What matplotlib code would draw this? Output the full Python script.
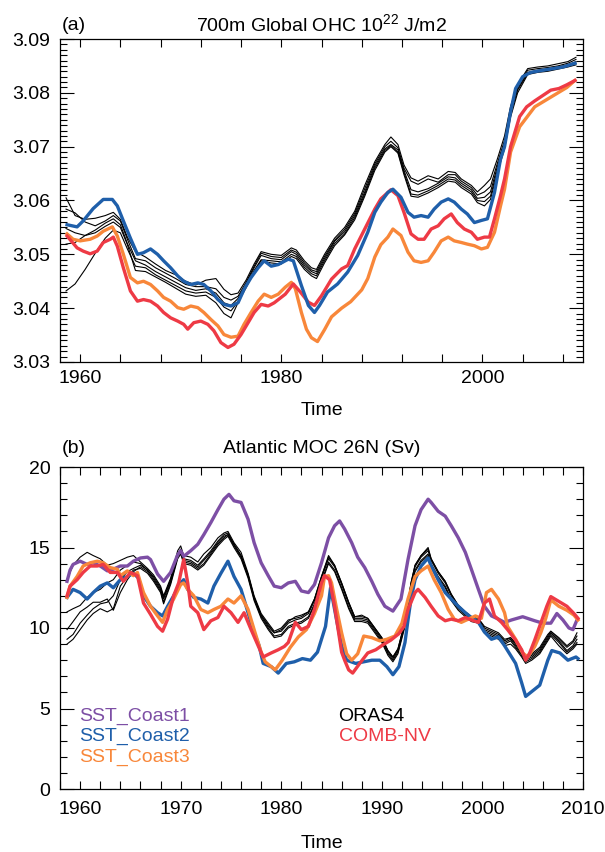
"""Ocean heat content and Atlantic MOC at 26N: ORAS4 ensemble vs. coastal SST runs"""
import matplotlib
matplotlib.use('Agg')
import matplotlib.pyplot as plt
from matplotlib.ticker import MultipleLocator

plt.rcParams['font.family'] = ['Liberation Sans', 'DejaVu Sans']
plt.rcParams['mathtext.fontset'] = 'custom'
plt.rcParams['mathtext.rm'] = 'Liberation Sans'

PURPLE = '#7D4FA5'
BLUE = '#1F5FAA'
ORANGE = '#F8873A'
RED = '#EE3A45'

# ---------------- panel (a): 700m global OHC ----------------
OHC_ORAS4_YEARS = [1958.6, 1959.5, 1960.5, 1961.5, 1962.5, 1963.3, 1964.0, 1964.7, 1965.5, 1966.5,
                   1967.5, 1968.5, 1969.5, 1970.5, 1971.5, 1972.5, 1973.5, 1974.3, 1975.0, 1975.7,
                   1976.5, 1977.3, 1978.0, 1979.0, 1980.0, 1981.0, 1981.5, 1982.3, 1983.0, 1983.5,
                   1984.3, 1985.3, 1986.3, 1987.3, 1988.3, 1989.3, 1990.3, 1990.9, 1991.6, 1992.2,
                   1992.9, 1993.6, 1994.6, 1995.6, 1996.6, 1997.3, 1997.9, 1998.9, 1999.5, 2000.2,
                   2000.8, 2001.5, 2002.2, 2002.8, 2003.5, 2004.5, 2005.5, 2006.5, 2007.5, 2008.5,
                   2009.3]
OHC_ORAS4 = [
    [3.0605, 3.0572, 3.0565, 3.0567, 3.0572, 3.0578, 3.0565, 3.0532, 3.0505, 3.0495,
     3.0482, 3.0470, 3.0462, 3.0450, 3.0443, 3.0452, 3.0455, 3.0435, 3.0425, 3.0428,
     3.0452, 3.0482, 3.0505, 3.0500, 3.0498, 3.0512, 3.0508, 3.0488, 3.0475, 3.0472,
     3.0500, 3.0530, 3.0550, 3.0580, 3.0628, 3.0672, 3.0704, 3.0718, 3.0704, 3.0666,
     3.0642, 3.0636, 3.0646, 3.0640, 3.0654, 3.0652, 3.0640, 3.0628, 3.0616, 3.0628,
     3.0640, 3.0678, 3.0720, 3.0775, 3.0815, 3.0845, 3.0848, 3.0850, 3.0854, 3.0858,
     3.0866],
    [3.0584, 3.0577, 3.0560, 3.0553, 3.0562, 3.0572, 3.0562, 3.0528, 3.0492, 3.0488,
     3.0475, 3.0465, 3.0455, 3.0444, 3.0440, 3.0440, 3.0436, 3.0420, 3.0415, 3.0422,
     3.0448, 3.0478, 3.0502, 3.0496, 3.0494, 3.0508, 3.0504, 3.0484, 3.0471, 3.0468,
     3.0496, 3.0526, 3.0546, 3.0576, 3.0622, 3.0668, 3.0700, 3.0710, 3.0698, 3.0660,
     3.0636, 3.0630, 3.0640, 3.0634, 3.0648, 3.0648, 3.0636, 3.0624, 3.0610, 3.0616,
     3.0626, 3.0670, 3.0712, 3.0770, 3.0812, 3.0842, 3.0845, 3.0847, 3.0850, 3.0855,
     3.0862],
    [3.0519, 3.0522, 3.0535, 3.0545, 3.0558, 3.0566, 3.0555, 3.0520, 3.0488, 3.0480,
     3.0468, 3.0458, 3.0448, 3.0438, 3.0433, 3.0436, 3.0428, 3.0410, 3.0405, 3.0418,
     3.0445, 3.0475, 3.0498, 3.0492, 3.0490, 3.0505, 3.0500, 3.0480, 3.0468, 3.0464,
     3.0492, 3.0524, 3.0542, 3.0572, 3.0616, 3.0664, 3.0696, 3.0704, 3.0694, 3.0656,
     3.0620, 3.0616, 3.0622, 3.0632, 3.0644, 3.0642, 3.0632, 3.0620, 3.0604, 3.0606,
     3.0616, 3.0664, 3.0706, 3.0765, 3.0808, 3.0838, 3.0842, 3.0844, 3.0848, 3.0852,
     3.0858],
    [3.0432, 3.0445, 3.0472, 3.0502, 3.0530, 3.0545, 3.0540, 3.0510, 3.0478, 3.0475,
     3.0462, 3.0452, 3.0442, 3.0432, 3.0428, 3.0430, 3.0420, 3.0402, 3.0395, 3.0412,
     3.0440, 3.0470, 3.0490, 3.0488, 3.0486, 3.0500, 3.0496, 3.0476, 3.0464, 3.0460,
     3.0488, 3.0520, 3.0538, 3.0568, 3.0612, 3.0660, 3.0693, 3.0702, 3.0690, 3.0652,
     3.0612, 3.0610, 3.0618, 3.0628, 3.0640, 3.0638, 3.0628, 3.0616, 3.0600, 3.0598,
     3.0608, 3.0658, 3.0700, 3.0760, 3.0805, 3.0836, 3.0840, 3.0842, 3.0846, 3.0850,
     3.0855],
    [3.0548, 3.0540, 3.0535, 3.0540, 3.0552, 3.0560, 3.0550, 3.0518, 3.0470, 3.0468,
     3.0458, 3.0448, 3.0437, 3.0426, 3.0422, 3.0424, 3.0410, 3.0390, 3.0382, 3.0410,
     3.0438, 3.0468, 3.0488, 3.0484, 3.0482, 3.0496, 3.0492, 3.0472, 3.0460, 3.0455,
     3.0484, 3.0516, 3.0536, 3.0564, 3.0608, 3.0656, 3.0690, 3.0700, 3.0688, 3.0648,
     3.0608, 3.0606, 3.0614, 3.0624, 3.0636, 3.0634, 3.0624, 3.0612, 3.0596, 3.0590,
     3.0602, 3.0652, 3.0696, 3.0755, 3.0800, 3.0834, 3.0838, 3.0840, 3.0844, 3.0848,
     3.0852],
]

OHC_COAST2_YEARS = [1958.7, 1959.7, 1960.3, 1961.3, 1962.3, 1963.2, 1963.7, 1964.3, 1965.0, 1965.7,
                    1966.3, 1967.0, 1967.7, 1968.3, 1969.0, 1969.7, 1970.3, 1971.0, 1971.7, 1972.3,
                    1973.0, 1973.7, 1974.3, 1975.0, 1975.7, 1976.3, 1977.0, 1977.7, 1978.3, 1979.0,
                    1979.7, 1980.7, 1981.2, 1982.0, 1982.7, 1983.3, 1983.8, 1984.6, 1985.6, 1986.6,
                    1987.6, 1988.6, 1989.3, 1989.9, 1990.6, 1991.1, 1991.9, 1992.6, 1993.2, 1993.9,
                    1994.6, 1995.2, 1995.9, 1996.6, 1997.2, 1997.9, 1998.5, 1999.2, 1999.9, 2000.5,
                    2001.2, 2001.8, 2002.2, 2002.8, 2003.3, 2004.0, 2004.8, 2006.0, 2007.0, 2008.0,
                    2009.2]
OHC_COAST2 = [3.0555, 3.0551, 3.0562, 3.0585, 3.0602, 3.0602, 3.0590, 3.0562, 3.0530, 3.0500,
              3.0503, 3.0510, 3.0500, 3.0488, 3.0475, 3.0460, 3.0450, 3.0444, 3.0447, 3.0444,
              3.0432, 3.0416, 3.0407, 3.0404, 3.0410, 3.0435, 3.0457, 3.0475, 3.0488, 3.0478,
              3.0481, 3.0491, 3.0488, 3.0442, 3.0405, 3.0392, 3.0405, 3.0430, 3.0445, 3.0467,
              3.0498, 3.0541, 3.0578, 3.0597, 3.0615, 3.0621, 3.0606, 3.0578, 3.0569, 3.0572,
              3.0569, 3.0584, 3.0597, 3.0603, 3.0597, 3.0584, 3.0575, 3.0559, 3.0563, 3.0566,
              3.0615, 3.0677, 3.0700, 3.0765, 3.0808, 3.0830, 3.0838, 3.0842, 3.0845, 3.0848,
              3.0855]

OHC_COMB_YEARS = [1958.7, 1959.7, 1960.3, 1961.0, 1961.7, 1962.3, 1963.0, 1963.3, 1963.7, 1964.3,
                  1965.0, 1965.7, 1966.3, 1967.0, 1967.7, 1968.3, 1969.0, 1969.7, 1970.3, 1970.7,
                  1971.3, 1972.0, 1972.7, 1973.3, 1974.0, 1974.7, 1975.3, 1976.0, 1976.7, 1977.3,
                  1978.0, 1978.7, 1979.3, 1980.4, 1981.2, 1981.9, 1982.7, 1983.3, 1984.0, 1985.0,
                  1986.0, 1986.6, 1987.3, 1988.3, 1989.3, 1989.9, 1990.9, 1991.6, 1992.2, 1992.9,
                  1993.6, 1994.2, 1994.9, 1995.6, 1996.2, 1996.9, 1997.5, 1998.2, 1998.9, 1999.5,
                  2000.2, 2000.7, 2001.2, 2001.8, 2002.2, 2002.8, 2003.7, 2004.4, 2005.2, 2006.0,
                  2006.8, 2007.6, 2008.4, 2009.2]
OHC_COMB = [3.0534, 3.0512, 3.0506, 3.0501, 3.0506, 3.0522, 3.0528, 3.0532, 3.0515, 3.0475,
            3.0432, 3.0413, 3.0416, 3.0413, 3.0404, 3.0392, 3.0382, 3.0376, 3.0370, 3.0361,
            3.0373, 3.0376, 3.0370, 3.0358, 3.0336, 3.0327, 3.0333, 3.0351, 3.0373, 3.0392,
            3.0407, 3.0404, 3.0410, 3.0426, 3.0445, 3.0430, 3.0411, 3.0405, 3.0423, 3.0454,
            3.0473, 3.0479, 3.0510, 3.0547, 3.0584, 3.0603, 3.0620, 3.0609, 3.0578, 3.0538,
            3.0528, 3.0528, 3.0547, 3.0553, 3.0566, 3.0575, 3.0559, 3.0547, 3.0541, 3.0528,
            3.0532, 3.0532, 3.0566, 3.0609, 3.0640, 3.0700, 3.0756, 3.0774, 3.0785, 3.0795,
            3.0805, 3.0808, 3.0815, 3.0823]

OHC_COAST3_YEARS = [1958.7, 1959.3, 1960.0, 1961.0, 1961.7, 1962.3, 1963.2, 1963.7, 1964.3, 1965.0,
                    1965.7, 1966.3, 1967.0, 1967.7, 1968.3, 1969.0, 1969.7, 1970.3, 1971.0, 1971.7,
                    1972.3, 1973.0, 1973.7, 1974.3, 1975.0, 1975.7, 1976.3, 1977.0, 1977.7, 1978.3,
                    1979.0, 1979.7, 1980.4, 1981.0, 1981.4, 1982.0, 1982.5, 1983.0, 1983.6, 1984.3,
                    1985.0, 1986.0, 1986.9, 1988.0, 1988.6, 1989.3, 1989.9, 1990.6, 1991.1, 1991.9,
                    1992.6, 1993.2, 1993.9, 1994.6, 1995.2, 1995.9, 1996.6, 1997.2, 1997.9, 1998.5,
                    1999.2, 1999.9, 2000.5, 2001.2, 2001.8, 2002.2, 2002.8, 2003.7, 2005.2, 2006.8,
                    2008.4, 2009.2]
OHC_COAST3 = [3.0538, 3.0528, 3.0525, 3.0528, 3.0534, 3.0543, 3.0551, 3.0534, 3.0500, 3.0457,
              3.0447, 3.0450, 3.0444, 3.0432, 3.0420, 3.0413, 3.0401, 3.0398, 3.0404, 3.0401,
              3.0392, 3.0379, 3.0367, 3.0351, 3.0346, 3.0348, 3.0370, 3.0392, 3.0413, 3.0426,
              3.0420, 3.0426, 3.0439, 3.0448, 3.0436, 3.0392, 3.0361, 3.0345, 3.0338, 3.0360,
              3.0384, 3.0400, 3.0412, 3.0434, 3.0455, 3.0495, 3.0518, 3.0532, 3.0547, 3.0535,
              3.0504, 3.0488, 3.0485, 3.0488, 3.0504, 3.0525, 3.0532, 3.0525, 3.0522, 3.0519,
              3.0516, 3.0510, 3.0513, 3.0541, 3.0590, 3.0621, 3.0690, 3.0737, 3.0774, 3.0792,
              3.0810, 3.0823]

# ---------------- panel (b): Atlantic MOC at 26N ----------------
MOC_ORAS4_YEARS = [1958.7, 1959.3, 1960.0, 1960.7, 1961.3, 1962.0, 1962.7, 1963.3, 1964.0, 1964.7,
                   1965.3, 1966.0, 1966.7, 1967.3, 1968.0, 1968.3, 1969.0, 1969.7, 1970.0, 1970.3,
                   1971.0, 1971.7, 1972.3, 1973.0, 1973.7, 1974.3, 1974.7, 1975.3, 1976.0, 1976.7,
                   1977.3, 1978.0, 1978.7, 1979.3, 1980.0, 1980.7, 1981.4, 1982.0, 1982.7, 1983.3,
                   1984.0, 1984.7, 1985.3, 1986.0, 1986.7, 1987.3, 1988.0, 1988.6, 1989.3, 1990.0,
                   1990.6, 1991.1, 1991.6, 1992.3, 1992.9, 1993.3, 1993.9, 1994.6, 1994.9, 1995.6,
                   1996.3, 1996.9, 1997.6, 1998.3, 1998.9, 1999.6, 2000.2, 2000.9, 2001.6, 2002.2,
                   2002.8, 2003.3, 2003.9, 2004.3, 2004.9, 2005.7, 2006.5, 2006.8, 2007.6, 2008.4,
                   2009.0, 2009.4]
MOC_ORAS4 = [
    [13.0, 13.9, 14.4, 14.7, 14.5, 14.3, 13.9, 14.0, 14.2, 14.4,
     14.5, 14.1, 13.7, 13.3, 12.6, 12.0, 13.1, 14.8, 15.1, 14.5,
     14.4, 14.1, 14.6, 15.0, 15.6, 15.9, 16.0, 15.3, 14.7, 13.4,
     12.0, 10.9, 10.3, 9.8, 10.0, 10.5, 10.6, 10.7, 11.0, 11.8,
     13.2, 14.5, 13.9, 12.8, 11.6, 10.7, 10.8, 10.6, 10.0, 9.4,
     8.6, 8.2, 8.7, 10.4, 12.8, 13.9, 14.5, 15.0, 14.3, 13.5,
     12.9, 12.1, 11.4, 11.0, 10.7, 10.6, 10.0, 9.8, 9.6, 9.2,
     9.4, 9.0, 8.5, 8.1, 8.3, 8.7, 9.5, 9.8, 9.4, 8.9,
     9.2, 9.7],
    [11.0, 11.2, 11.4, 11.9, 12.2, 12.4, 12.8, 13.0, 13.6, 13.9,
     14.1, 14.0, 13.6, 13.2, 12.5, 11.9, 13.0, 14.6, 14.9, 14.3,
     14.2, 13.9, 14.3, 14.8, 15.4, 15.8, 15.9, 15.2, 14.5, 13.3,
     11.9, 10.8, 10.2, 9.7, 9.8, 10.3, 10.5, 10.6, 10.9, 11.7,
     13.1, 14.3, 13.8, 12.7, 11.5, 10.6, 10.6, 10.5, 9.9, 9.3,
     8.5, 8.1, 8.6, 10.3, 12.7, 13.8, 14.4, 14.8, 14.2, 13.4,
     12.8, 12.0, 11.3, 10.9, 10.6, 10.5, 9.9, 9.7, 9.5, 9.1,
     9.3, 8.9, 8.4, 8.0, 8.2, 8.6, 9.4, 9.7, 9.2, 8.6,
     8.9, 9.3],
    [9.9, 10.4, 11.0, 11.3, 11.6, 11.6, 11.8, 11.1, 12.2, 13.0,
     13.5, 13.8, 13.5, 13.0, 12.3, 11.6, 12.8, 14.4, 14.7, 14.1,
     14.0, 13.7, 14.0, 14.6, 15.2, 15.6, 15.8, 15.1, 14.4, 13.2,
     11.8, 10.7, 10.0, 9.5, 9.6, 10.1, 10.3, 10.4, 10.7, 11.5,
     12.9, 14.1, 13.6, 12.5, 11.3, 10.5, 10.5, 10.4, 9.8, 9.2,
     8.4, 8.0, 8.5, 10.2, 12.5, 13.6, 14.2, 14.6, 14.0, 13.2,
     12.6, 11.8, 11.2, 10.8, 10.5, 10.4, 9.8, 9.6, 9.4, 9.0,
     9.2, 8.8, 8.3, 7.9, 8.1, 8.5, 9.3, 9.6, 9.1, 8.5,
     8.8, 9.1],
    [9.3, 9.6, 10.3, 10.8, 11.2, 11.5, 11.6, 12.0, 13.0, 13.5,
     13.7, 13.9, 13.6, 13.1, 12.4, 11.8, 12.9, 14.5, 14.8, 14.2,
     14.1, 13.8, 14.2, 14.7, 15.3, 15.7, 15.8, 15.2, 14.5, 13.3,
     11.9, 10.8, 10.1, 9.7, 9.9, 10.4, 10.7, 10.8, 11.0, 11.8,
     13.2, 14.4, 13.9, 12.8, 11.6, 10.7, 10.7, 10.6, 10.0, 9.4,
     8.6, 8.2, 8.7, 10.4, 12.8, 13.9, 14.5, 14.9, 14.3, 13.5,
     12.9, 12.1, 11.4, 11.0, 10.7, 10.6, 10.1, 9.9, 9.7, 9.3,
     9.4, 9.1, 8.6, 8.2, 8.4, 8.8, 9.6, 9.8, 9.3, 8.8,
     9.1, 9.5],
    [9.0, 9.3, 9.9, 10.5, 10.9, 11.2, 11.0, 11.2, 12.6, 13.2,
     13.6, 13.7, 13.4, 12.9, 12.2, 11.5, 12.7, 14.3, 14.6, 14.0,
     13.9, 13.6, 13.9, 14.5, 15.1, 15.5, 15.7, 15.0, 14.3, 13.1,
     11.7, 10.6, 9.9, 9.4, 9.5, 10.0, 10.2, 10.3, 10.6, 11.4,
     12.8, 14.0, 13.5, 12.4, 11.2, 10.4, 10.4, 10.3, 9.7, 9.1,
     8.3, 7.9, 8.4, 10.1, 12.4, 13.5, 14.1, 14.5, 13.9, 13.1,
     12.5, 11.7, 11.1, 10.7, 10.4, 10.3, 9.7, 9.5, 9.3, 8.9,
     9.0, 8.7, 8.2, 7.8, 8.0, 8.4, 9.2, 9.5, 8.9, 8.4,
     8.7, 9.0],
]

MOC_COAST1_YEARS = [1958.7, 1959.0, 1959.3, 1960.0, 1960.7, 1961.3, 1962.0, 1962.7, 1963.3, 1964.0,
                    1964.7, 1965.3, 1966.0, 1966.7, 1967.0, 1967.7, 1968.3, 1969.0, 1969.7, 1970.0,
                    1970.3, 1971.0, 1971.7, 1972.3, 1973.0, 1973.7, 1974.3, 1974.8, 1975.3, 1976.0,
                    1976.7, 1977.3, 1978.0, 1978.7, 1979.3, 1980.0, 1980.7, 1981.4, 1982.0, 1982.7,
                    1983.3, 1984.0, 1984.7, 1985.3, 1985.8, 1986.3, 1987.0, 1987.6, 1988.3, 1989.0,
                    1989.6, 1990.3, 1991.1, 1991.9, 1992.6, 1993.3, 1993.9, 1994.6, 1994.9, 1995.6,
                    1996.3, 1996.9, 1997.6, 1998.3, 1998.9, 1999.6, 2000.2, 2000.9, 2001.6, 2002.2,
                    2002.9, 2004.0, 2005.2, 2006.0, 2006.8, 2007.4, 2008.0, 2008.6, 2009.0, 2009.4]
MOC_COAST1 = [12.9, 13.6, 13.95, 14.15, 13.95, 14.05, 13.85, 13.55, 13.65, 13.85,
              13.85, 14.15, 14.35, 14.4, 14.25, 13.35, 12.9, 13.45, 14.55, 14.8,
              14.45, 14.8, 15.2, 15.8, 16.55, 17.35, 18.0, 18.3, 17.9, 17.8,
              16.75, 15.3, 14.05, 13.25, 12.6, 12.5, 12.8, 12.9, 12.3, 12.2,
              12.7, 14.05, 15.6, 16.35, 16.65, 16.15, 15.3, 14.4, 13.75, 12.9,
              12.1, 11.35, 11.05, 11.8, 14.25, 16.35, 17.35, 18.0, 17.8, 17.25,
              16.95, 16.35, 15.6, 14.7, 13.65, 12.4, 11.35, 10.75, 10.55, 10.35,
              10.5, 10.7, 10.45, 10.3, 10.3, 10.9, 10.5, 10.0, 9.9, 10.5]

MOC_COAST2_YEARS = [1958.7, 1959.3, 1960.0, 1960.7, 1961.3, 1962.0, 1962.7, 1963.3, 1964.0, 1964.7,
                    1965.3, 1965.8, 1966.3, 1967.0, 1967.7, 1968.2, 1968.7, 1969.3, 1970.0, 1970.3,
                    1970.7, 1971.3, 1972.0, 1972.7, 1973.3, 1974.0, 1974.7, 1975.3, 1976.0, 1976.7,
                    1977.3, 1977.8, 1978.2, 1979.0, 1979.7, 1980.5, 1981.3, 1982.1, 1982.9, 1983.6,
                    1984.4, 1984.9, 1985.5, 1986.0, 1986.5, 1987.4, 1988.2, 1989.0, 1989.8, 1990.5,
                    1991.1, 1991.7, 1992.3, 1992.6, 1992.9, 1993.3, 1993.9, 1994.6, 1994.9, 1995.6,
                    1996.3, 1996.9, 1997.6, 1998.3, 1998.9, 1999.6, 2000.2, 2000.9, 2001.6, 2002.2,
                    2002.8, 2003.3, 2003.9, 2004.3, 2004.9, 2005.7, 2006.5, 2006.9, 2007.7, 2008.5,
                    2009.3, 2009.5]
MOC_COAST2 = [11.9, 12.4, 12.2, 11.8, 12.2, 12.6, 12.8, 12.5, 13.0, 13.2,
              13.4, 13.1, 12.0, 11.35, 10.95, 10.75, 11.35, 12.0, 12.8, 13.0,
              12.4, 11.9, 11.8, 11.55, 12.6, 13.4, 14.15, 13.2, 12.4, 10.95,
              9.7, 8.9, 7.8, 7.6, 7.2, 7.8, 7.9, 8.1, 8.0, 8.5,
              10.1, 12.5, 10.5, 8.9, 8.0, 7.8, 7.9, 8.0, 8.0, 7.6,
              7.1, 7.6, 9.1, 10.5, 11.8, 13.0, 13.85, 14.35, 13.85, 13.0,
              12.2, 11.8, 11.35, 10.95, 10.65, 10.35, 9.75, 9.3, 9.45, 8.9,
              8.3, 7.8, 6.6, 5.75, 6.05, 6.45, 8.0, 8.6, 8.45, 8.0,
              8.2, 8.1]

MOC_COAST3_YEARS = [1958.7, 1959.0, 1959.7, 1960.3, 1961.0, 1961.7, 1962.3, 1963.0, 1963.7, 1964.0,
                    1964.7, 1965.3, 1965.7, 1966.3, 1967.0, 1967.7, 1968.2, 1968.7, 1969.3, 1970.0,
                    1970.3, 1970.7, 1971.3, 1972.0, 1972.7, 1973.3, 1974.0, 1974.7, 1975.3, 1976.0,
                    1976.7, 1977.3, 1978.0, 1978.4, 1979.0, 1979.4, 1980.1, 1980.9, 1981.7, 1982.5,
                    1983.3, 1984.0, 1984.3, 1984.7, 1985.0, 1985.5, 1986.0, 1986.5, 1987.0, 1987.6,
                    1988.2, 1989.0, 1989.8, 1990.5, 1991.3, 1992.0, 1992.6, 1993.3, 1993.9, 1994.6,
                    1995.2, 1995.9, 1996.6, 1997.2, 1997.9, 1998.6, 1999.3, 1999.9, 2000.4, 2000.9,
                    2001.6, 2002.2, 2002.5, 2003.3, 2004.0, 2004.5, 2005.2, 2005.8, 2006.3, 2006.8,
                    2007.6, 2008.4, 2009.1, 2009.5]
MOC_COAST3 = [11.9, 12.6, 13.2, 13.85, 14.05, 14.15, 14.05, 13.75, 13.65, 13.25,
              13.55, 13.25, 13.45, 12.2, 11.35, 10.75, 10.35, 11.15, 11.8, 12.7,
              12.8, 12.4, 12.0, 11.15, 10.95, 11.15, 11.35, 11.8, 11.55, 12.0,
              11.15, 9.9, 8.5, 7.9, 7.6, 7.4, 8.0, 8.8, 9.45, 9.9,
              10.9, 12.0, 13.2, 13.25, 12.8, 11.2, 9.7, 8.4, 8.0, 8.4,
              9.5, 9.4, 9.2, 9.3, 9.5, 10.3, 11.8, 13.2, 13.55, 13.85,
              13.0, 12.2, 11.15, 10.55, 10.35, 10.55, 10.75, 10.6, 12.2, 12.4,
              11.8, 10.95, 10.1, 9.3, 8.45, 8.2, 8.85, 9.7, 10.6, 11.75,
              11.35, 11.1, 10.8, 10.5]

MOC_COMB_YEARS = [1958.7, 1959.0, 1959.7, 1960.3, 1961.0, 1961.7, 1962.3, 1963.0, 1963.7, 1964.3,
                  1965.0, 1965.7, 1966.3, 1967.0, 1967.7, 1968.2, 1968.7, 1969.3, 1969.8, 1970.3,
                  1970.7, 1971.0, 1971.7, 1972.3, 1973.0, 1973.7, 1974.3, 1975.0, 1975.7, 1976.3,
                  1977.0, 1977.7, 1978.2, 1979.0, 1979.7, 1980.3, 1980.7, 1981.4, 1982.0, 1982.7,
                  1983.3, 1984.0, 1984.3, 1984.8, 1985.3, 1986.0, 1986.3, 1986.7, 1987.1, 1987.8,
                  1988.6, 1989.4, 1990.1, 1990.9, 1991.7, 1992.2, 1992.6, 1993.3, 1993.6, 1994.3,
                  1994.9, 1995.6, 1996.3, 1996.9, 1997.6, 1998.3, 1998.9, 1999.6, 2000.2, 2000.7,
                  2001.2, 2001.9, 2002.5, 2003.3, 2003.9, 2004.3, 2004.7, 2005.2, 2005.8, 2006.4,
                  2006.8, 2007.6, 2008.4, 2009.1, 2009.5]
MOC_COMB = [12.0, 12.6, 13.0, 13.45, 13.85, 13.85, 13.95, 13.45, 13.45, 12.9,
            13.45, 13.25, 11.55, 10.85, 10.1, 9.8, 10.55, 12.0, 12.8, 14.25,
            12.8, 11.35, 10.95, 9.9, 10.45, 10.65, 11.35, 10.95, 10.35, 10.95,
            9.9, 8.9, 8.2, 8.45, 8.65, 8.85, 9.1, 10.35, 9.9, 10.1,
            11.15, 12.8, 13.25, 13.0, 11.35, 8.5, 8.0, 7.4, 7.2, 7.8,
            8.45, 8.65, 8.95, 9.25, 9.65, 10.1, 11.15, 12.2, 12.4, 11.9,
            11.35, 10.75, 10.45, 10.55, 10.45, 10.65, 10.5, 10.35, 11.55, 11.8,
            10.75, 10.35, 9.9, 9.25, 8.65, 8.0, 8.45, 9.25, 10.3, 11.35,
            11.95, 11.65, 11.35, 10.9, 10.6]

LEGEND_LEFT = [('SST_Coast1', PURPLE), ('SST_Coast2', BLUE), ('SST_Coast3', ORANGE)]
LEGEND_RIGHT = [('ORAS4', 'black'), ('COMB-NV', RED)]

FS = 14
THIN = 0.8
THICK = 2.4

fig = plt.figure(figsize=(6.05, 8.52), dpi=100)
ax_a = fig.add_axes([60 / 605, 1 - 362 / 852, 523 / 605, 323 / 852])
ax_b = fig.add_axes([60 / 605, 1 - 789 / 852, 523 / 605, 322 / 852])

# panel (a)
for member in OHC_ORAS4:
    ax_a.plot(OHC_ORAS4_YEARS, member, color='black', lw=THIN)
ax_a.plot(OHC_COAST3_YEARS, OHC_COAST3, color=ORANGE, lw=THICK)
ax_a.plot(OHC_COMB_YEARS, OHC_COMB, color=RED, lw=THICK)
ax_a.plot(OHC_COAST2_YEARS, OHC_COAST2, color=BLUE, lw=THICK)

ax_a.set_xlim(1958, 2010)
ax_a.set_ylim(3.03, 3.09)
ax_a.set_xticks([1960, 1980, 2000])
ax_a.xaxis.set_minor_locator(MultipleLocator(4))
ax_a.set_yticks([3.03, 3.04, 3.05, 3.06, 3.07, 3.08, 3.09])
ax_a.set_yticklabels(['3.03', '3.04', '3.05', '3.06', '3.07', '3.08', '3.09'])
ax_a.yaxis.set_minor_locator(MultipleLocator(0.001))
ax_a.tick_params(axis='x', which='both', length=6, pad=6)
ax_a.tick_params(axis='y', which='major', length=10, pad=7)
ax_a.tick_params(axis='y', which='minor', length=5)
ax_a.text(0.004, 1.043, '(a)', transform=ax_a.transAxes, ha='left', va='center', fontsize=FS)
ax_a.text(0.5, 1.043, r'700m Global OHC 10$^{\mathrm{22}}$ J/m2', transform=ax_a.transAxes,
          ha='center', va='center', fontsize=FS)
ax_a.set_xlabel('Time', fontsize=FS)
ax_a.xaxis.set_label_coords(0.5, -0.149)
ax_a.xaxis.label.set_va('center')

# panel (b)
for member in MOC_ORAS4:
    ax_b.plot(MOC_ORAS4_YEARS, member, color='black', lw=THIN)
ax_b.plot(MOC_COAST1_YEARS, MOC_COAST1, color=PURPLE, lw=THICK)
ax_b.plot(MOC_COAST2_YEARS, MOC_COAST2, color=BLUE, lw=THICK)
ax_b.plot(MOC_COAST3_YEARS, MOC_COAST3, color=ORANGE, lw=THICK)
ax_b.plot(MOC_COMB_YEARS, MOC_COMB, color=RED, lw=THICK)

ax_b.set_xlim(1958, 2010)
ax_b.set_ylim(0, 20)
ax_b.set_xticks([1960, 1970, 1980, 1990, 2000, 2010])
ax_b.xaxis.set_minor_locator(MultipleLocator(2))
ax_b.set_yticks([0, 5, 10, 15, 20])
ax_b.yaxis.set_minor_locator(MultipleLocator(1))
ax_b.tick_params(axis='x', which='both', length=6, pad=9)
ax_b.tick_params(axis='y', which='major', length=10, pad=7)
ax_b.tick_params(axis='y', which='minor', length=5)
ax_b.text(0.004, 1.059, '(b)', transform=ax_b.transAxes, ha='left', va='center', fontsize=FS)
ax_b.text(0.5, 1.059, 'Atlantic MOC 26N (Sv)', transform=ax_b.transAxes,
          ha='center', va='center', fontsize=FS)
ax_b.set_xlabel('Time', fontsize=FS)
ax_b.xaxis.set_label_coords(0.5, -0.168)
ax_b.xaxis.label.set_va('center')

for i, (name, col) in enumerate(LEGEND_LEFT):
    ax_b.text(1959.9, 4.53 - 1.27 * i, name, color=col, fontsize=FS, va='center', ha='left')
for i, (name, col) in enumerate(LEGEND_RIGHT):
    ax_b.text(1985.7, 4.53 - 1.27 * i, name, color=col, fontsize=FS, va='center', ha='left')

for ax in (ax_a, ax_b):
    ax.tick_params(which='both', direction='in', top=True, right=True, labelsize=FS, width=0.8)
    for sp in ax.spines.values():
        sp.set_linewidth(0.9)

fig.savefig('out.png', dpi=100)
